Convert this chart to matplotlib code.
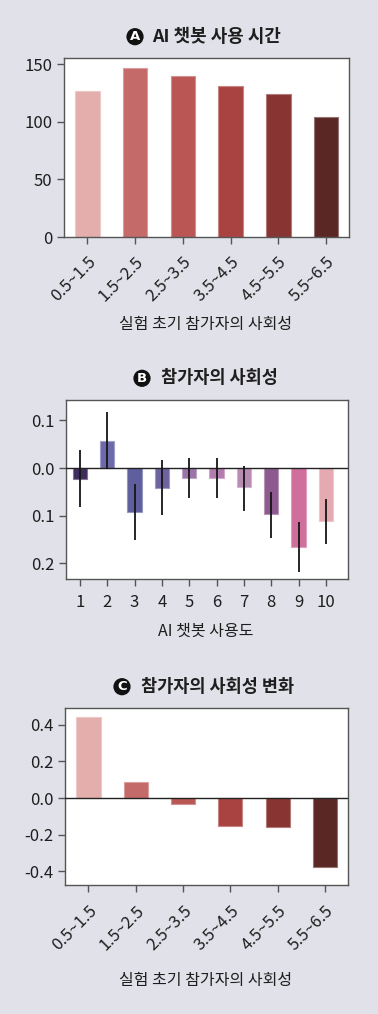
import matplotlib
matplotlib.use("Agg")
import matplotlib.pyplot as plt
from matplotlib.colors import to_rgba

plt.rcParams['font.family'] = ['Noto Sans CJK KR', 'DejaVu Sans']

# ---------------- data ----------------
groups_a = ["0.5~1.5", "1.5~2.5", "2.5~3.5", "3.5~4.5", "4.5~5.5", "5.5~6.5"]
usage_time = [127, 147, 140, 131, 124, 104]
colors_a = ["#E3AEAB", "#C46A68", "#BA5654", "#A94341", "#873432", "#5B2725"]

usage_level = [1, 2, 3, 4, 5, 6, 7, 8, 9, 10]
sociality = [-0.022, 0.056, -0.093, -0.041, -0.020, -0.020, -0.040, -0.096, -0.166, -0.111]
err_low = [0.059, 0.058, 0.058, 0.058, 0.043, 0.043, 0.051, 0.050, 0.051, 0.048]
err_high = [0.060, 0.061, 0.060, 0.058, 0.042, 0.042, 0.044, 0.046, 0.053, 0.046]
colors_b = ["#3E2C5E", "#6C6AAA", "#5E5F9C", "#6F639F", "#9A74A8",
            "#B37CAE", "#B88BB3", "#8E5A8E", "#D06F9C", "#E5A9B1"]
yticks_b = [0.1, 0.0, -0.1, -0.2]
yticklabels_b = ["0.1", "0.0", "0.1", "0.2"]

sociality_change = [0.44, 0.086, -0.034, -0.151, -0.157, -0.378]
yticks_c = [0.4, 0.2, 0.0, -0.2, -0.4]
yticklabels_c = ["0.4", "0.2", "0.0", "-0.2", "-0.4"]

titles = ["AI 챗봇 사용 시간", "참가자의 사회성", "참가자의 사회성 변화"]
badges = ["A", "B", "C"]
xlabel_a = "실험 초기 참가자의 사회성"
xlabel_b = "AI 챗봇 사용도"

# ---------------- style ----------------
BG = "#E1E1E9"
TXT = "#1E1E1E"
SPINE = "#555555"
W, H = 378, 1014

fig = plt.figure(figsize=(W / 100, H / 100), dpi=100)
fig.patch.set_facecolor(BG)


def px_axes(l, r, t, b):
    return fig.add_axes([l / W, 1 - b / H, (r - l) / W, (b - t) / H])


def style(ax):
    ax.set_facecolor("white")
    for s in ax.spines.values():
        s.set_color(SPINE)
        s.set_linewidth(1.0)
    ax.tick_params(axis="both", colors=SPINE, labelcolor=TXT, labelsize=12,
                   length=5, width=1.0, direction="out")


def edge(c):
    r, g, b, _ = to_rgba(c)
    return (r + (1 - r) * 0.35, g + (1 - g) * 0.35, b + (1 - b) * 0.35, 1)


def fig_text(x_px, y_px, s, **kw):
    return fig.text(x_px / W, 1 - y_px / H, s, ha="center", va="center",
                    color=TXT, **kw)


def badge_at(x_px, y_px, letter):
    fig.text(x_px / W, 1 - y_px / H, letter, ha="center", va="center",
             fontsize=9.5, fontweight="bold", color="white",
             family=["DejaVu Sans"],
             bbox=dict(boxstyle="circle,pad=0.16", fc="#111111", ec="none"))


# ---------------- panel A ----------------
ax1 = px_axes(64, 349, 58.3, 237)
style(ax1)
xa = list(range(len(groups_a)))
ax1.bar(xa, usage_time, width=0.51, color=colors_a,
        edgecolor=[edge(c) for c in colors_a], linewidth=0.8)
ax1.set_xlim(-0.49, 5.48)
ax1.set_ylim(0, 155)
ax1.set_yticks([0, 50, 100, 150])
ax1.set_xticks(xa)
ax1.set_xticklabels(groups_a, rotation=45, ha="right", rotation_mode="anchor")
ax1.tick_params(axis="x", pad=7)
fig_text(206, 325, xlabel_a, fontsize=11.5)
fig_text(217, 36.7, titles[0], fontsize=12.9, fontweight="bold")
badge_at(135, 36.7, badges[0])

# ---------------- panel B ----------------
ax2 = px_axes(66, 347.7, 400.3, 578.7)
style(ax2)
ax2.bar(usage_level, sociality, width=0.53, color=colors_b,
        edgecolor=[edge(c) for c in colors_b], linewidth=0.8, zorder=2)
ax2.errorbar(usage_level, sociality, yerr=[err_low, err_high], fmt="none",
             ecolor="#151515", elinewidth=1.3, capsize=0, zorder=4)
ax2.axhline(0, color="#222222", lw=1.0, zorder=3)
ax2.set_xlim(0.49, 10.8)
ax2.set_ylim(-0.232, 0.142)
ax2.set_xticks(usage_level)
ax2.set_yticks(yticks_b)
ax2.set_yticklabels(yticklabels_b)
ax2.tick_params(axis="x", pad=6)
fig_text(206, 631.7, xlabel_b, fontsize=11.5)
fig_text(219, 378.3, titles[1], fontsize=12.6, fontweight="bold")
badge_at(142, 378.3, badges[1])

# ---------------- panel C ----------------
ax3 = px_axes(65.3, 347.7, 707.7, 885.3)
style(ax3)
ax3.bar(xa, sociality_change, width=0.51, color=colors_a,
        edgecolor=[edge(c) for c in colors_a], linewidth=0.8, zorder=2)
ax3.axhline(0, color="#222222", lw=1.0, zorder=3)
ax3.set_xlim(-0.49, 5.48)
ax3.set_ylim(-0.476, 0.493)
ax3.set_yticks(yticks_c)
ax3.set_yticklabels(yticklabels_c)
ax3.set_xticks(xa)
ax3.set_xticklabels(groups_a, rotation=45, ha="right", rotation_mode="anchor")
ax3.tick_params(axis="x", pad=7)
fig_text(206, 980, xlabel_a, fontsize=11.5)
fig_text(218, 686.7, titles[2], fontsize=12.6, fontweight="bold")
badge_at(122, 686.7, badges[2])

fig.savefig("out.png", dpi=100, facecolor=BG)
